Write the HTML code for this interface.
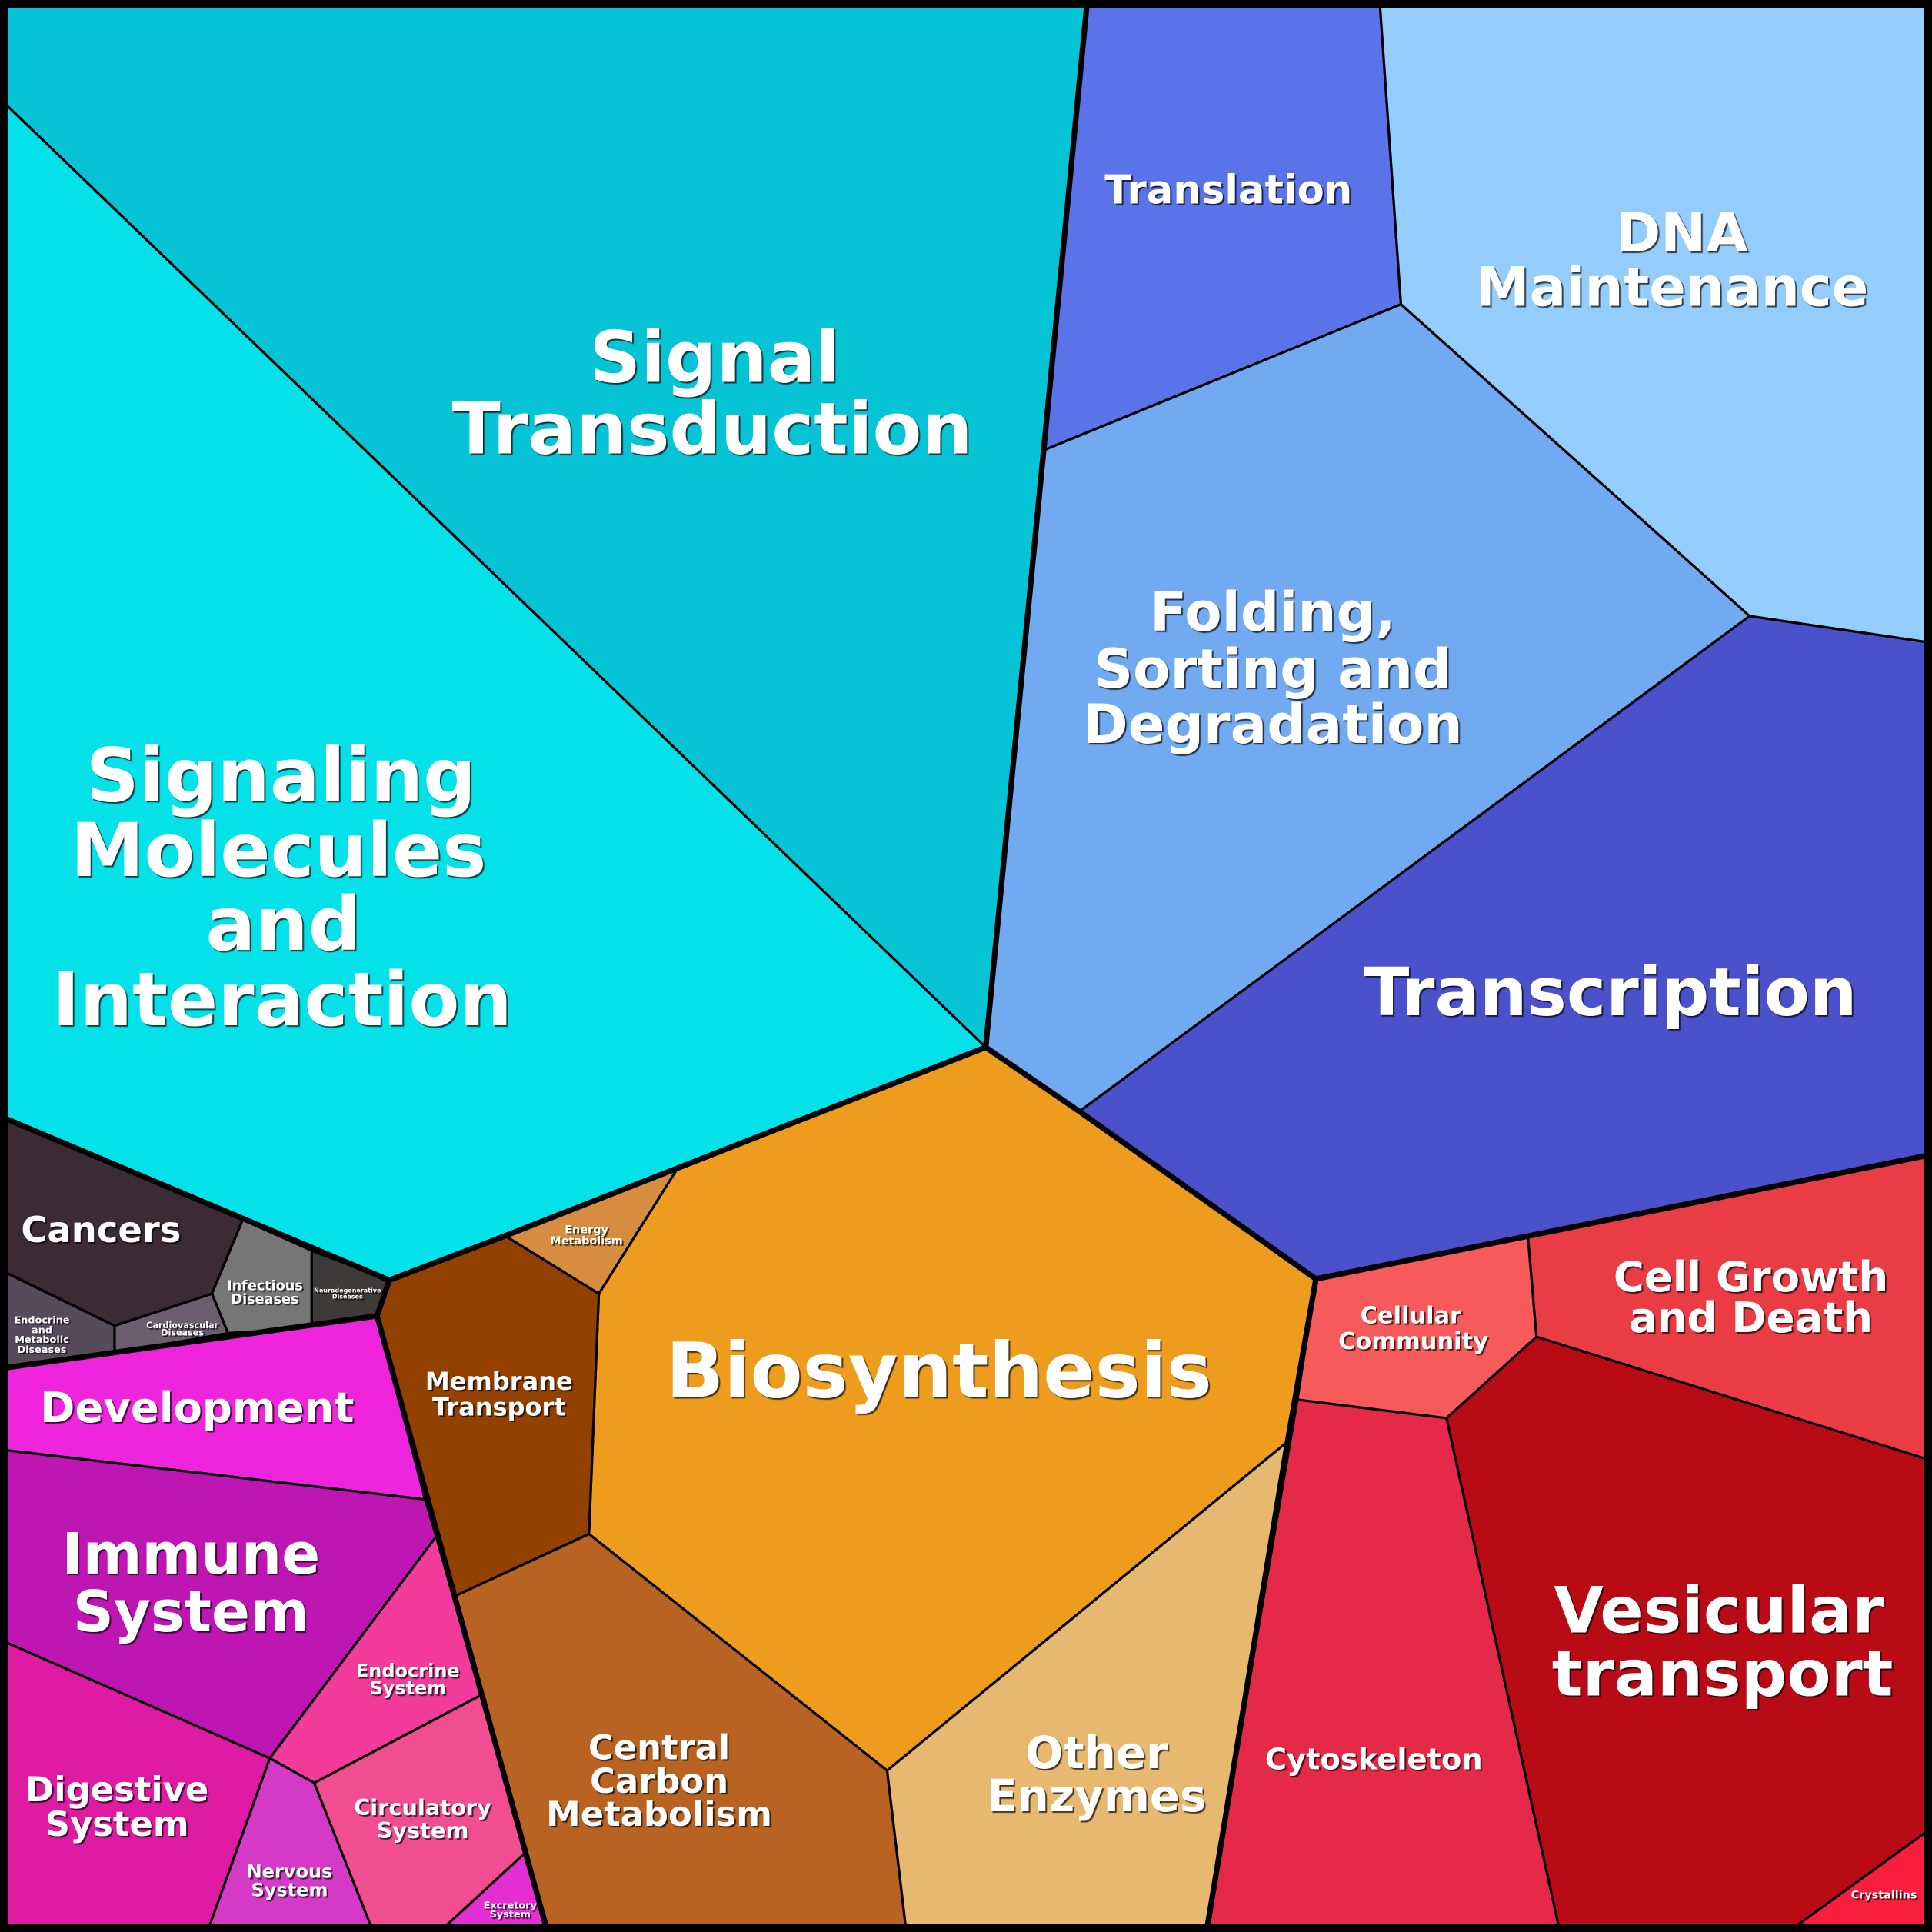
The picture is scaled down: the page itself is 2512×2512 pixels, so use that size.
<!DOCTYPE html>
<html><head><meta charset="utf-8"><style>
html,body{margin:0;padding:0;background:#000}
svg{display:block}
text{font-family:"DejaVu Sans","Liberation Sans",sans-serif;font-weight:bold;fill:#fff;text-anchor:middle;text-shadow:2px 2px 1px rgba(0,0,0,0.7)}
polygon{stroke:#000;stroke-width:2;stroke-linejoin:round}
.t{fill:none;stroke:#000;stroke-width:4.5;stroke-linejoin:round;stroke-linecap:round}
</style></head><body>
<svg width="2512" height="2512" viewBox="0 0 1568 1568" xmlns="http://www.w3.org/2000/svg">
<rect x="0" y="0" width="1568" height="1568" fill="#000"/>
<polygon fill="#06c4d6" points="5,5 882,5 800,850 5,85"/>
<polygon fill="#05e1e9" points="5,85 800,850 550,948 410,1003 316,1039 5,908"/>
<polygon fill="#5a73e8" points="882,5 1120,5 1137,247 848,365"/>
<polygon fill="#94cdfc" points="1120,5 1563,5 1563,521 1420,500 1137,247"/>
<polygon fill="#72aaf2" points="848,365 1137,247 1420,500 876,902 800,850"/>
<polygon fill="#4a51cb" points="1420,500 1563,521 1563,938 1240,1003 1068,1038 876,902"/>
<polygon fill="#ed9c1d" points="550,948 800,850 1068,1038 1045,1170 720,1437 478,1245 486,1050"/>
<polygon fill="#d68d40" points="410,1003 550,948 486,1050"/>
<polygon fill="#924100" points="316,1039 410,1003 486,1050 478,1245 370,1295 306,1068"/>
<polygon fill="#b86322" points="370,1295 478,1245 720,1437 735,1563 443,1563"/>
<polygon fill="#e6b870" points="720,1437 1045,1170 980,1563 735,1563"/>
<polygon fill="#f75a5a" points="1068,1038 1240,1003 1247,1085 1174,1151 1053,1136"/>
<polygon fill="#ea3c45" points="1240,1003 1563,938 1563,1184 1247,1085"/>
<polygon fill="#e42a48" points="1053,1136 1174,1151 1265,1563 980,1563"/>
<polygon fill="#b90b16" points="1174,1151 1247,1085 1563,1184 1563,1487 1458,1563 1265,1563"/>
<polygon fill="#f91e3e" points="1563,1487 1563,1563 1458,1563"/>
<polygon fill="#3c2a34" points="5,908 197,990 172,1050 93,1076 5,1033"/>
<polygon fill="#767676" points="197,990 253,1015 253,1078 185,1082 172,1050"/>
<polygon fill="#3e3a3a" points="253,1015 316,1039 306,1068 253,1078"/>
<polygon fill="#554b5a" points="5,1033 93,1076 93,1098 5,1110"/>
<polygon fill="#6c5e6e" points="93,1076 172,1050 185,1082 93,1098"/>
<polygon fill="#ee25dd" points="5,1110 306,1068 345,1217 5,1177"/>
<polygon fill="#bd16b3" points="5,1177 345,1217 354,1247 219,1427 5,1333"/>
<polygon fill="#f23b9b" points="354,1247 390,1376 255,1447 219,1427"/>
<polygon fill="#df1ba3" points="5,1333 219,1427 170,1563 5,1563"/>
<polygon fill="#d53ac6" points="219,1427 255,1447 301,1563 170,1563"/>
<polygon fill="#f14d91" points="255,1447 390,1376 426,1504 362,1563 301,1563"/>
<polygon fill="#e42ed1" points="426,1504 443,1563 362,1563"/>
<polyline class="t" points="882,5 800,850 876,902 1068,1038 1563,938"/>
<polyline class="t" points="5,908 316,1039 410,1003 550,948 800,850"/>
<polyline class="t" points="1068,1038 1045,1170 980,1563"/>
<polyline class="t" points="316,1039 306,1068 443,1563"/>
<polyline class="t" points="5,1110 306,1068"/>
<rect x="3" y="3" width="1562" height="1562" fill="none" stroke="#000" stroke-width="7"/>

<text font-size="58" x="580" y="310">Signal</text>
<text font-size="58" x="578" y="368">Transduction</text>
<text font-size="60" x="228" y="650">Signaling</text>
<text font-size="60" x="226" y="711">Molecules</text>
<text font-size="60" x="230" y="771">and</text>
<text font-size="60" x="229" y="832">Interaction</text>
<text font-size="32" x="997" y="165">Translation</text>
<text font-size="44" x="1365" y="204">DNA</text>
<text font-size="44" x="1357" y="248">Maintenance</text>
<text font-size="44" x="1033" y="512">Folding,</text>
<text font-size="44" x="1033" y="558">Sorting and</text>
<text font-size="44" x="1033" y="603">Degradation</text>
<text font-size="54" x="1307" y="824">Transcription</text>
<text font-size="62" x="762" y="1134">Biosynthesis</text>
<text font-size="9" x="476" y="1001">Energy</text>
<text font-size="9" x="476" y="1010">Metabolism</text>
<text font-size="20" x="405" y="1128">Membrane</text>
<text font-size="20" x="405" y="1149">Transport</text>
<text font-size="28" x="535" y="1428">Central</text>
<text font-size="28" x="535" y="1455">Carbon</text>
<text font-size="28" x="535" y="1482">Metabolism</text>
<text font-size="36" x="890" y="1435">Other</text>
<text font-size="36" x="890" y="1470">Enzymes</text>
<text font-size="19" x="1145" y="1074">Cellular</text>
<text font-size="19" x="1147" y="1095">Community</text>
<text font-size="34" x="1421" y="1048">Cell Growth</text>
<text font-size="34" x="1421" y="1081">and Death</text>
<text font-size="24" x="1115" y="1436">Cytoskeleton</text>
<text font-size="52" x="1395" y="1325">Vesicular</text>
<text font-size="52" x="1398" y="1376">transport</text>
<text font-size="9" x="1529" y="1541">Crystallins</text>
<text font-size="29" x="82" y="1008">Cancers</text>
<text font-size="11" x="215" y="1047">Infectious</text>
<text font-size="11" x="215" y="1058">Diseases</text>
<text font-size="5" x="282" y="1049">Neurodegenerative</text>
<text font-size="5" x="282" y="1054">Diseases</text>
<text font-size="8" x="34" y="1074">Endocrine</text>
<text font-size="8" x="34" y="1082">and</text>
<text font-size="8" x="34" y="1090">Metabolic</text>
<text font-size="8" x="34" y="1098">Diseases</text>
<text font-size="7" x="148" y="1078">Cardiovascular</text>
<text font-size="7" x="148" y="1084">Diseases</text>
<text font-size="34" x="160" y="1154">Development</text>
<text font-size="46" x="155" y="1277">Immune</text>
<text font-size="46" x="155" y="1324">System</text>
<text font-size="15" x="331" y="1361">Endocrine</text>
<text font-size="15" x="331" y="1375">System</text>
<text font-size="28" x="95" y="1462">Digestive</text>
<text font-size="28" x="95" y="1490">System</text>
<text font-size="15" x="235" y="1524">Nervous</text>
<text font-size="15" x="235" y="1539">System</text>
<text font-size="18" x="343" y="1473">Circulatory</text>
<text font-size="18" x="343" y="1492">System</text>
<text font-size="8" x="414" y="1549">Excretory</text>
<text font-size="8" x="414" y="1556">System</text>
</svg>
</body></html>
